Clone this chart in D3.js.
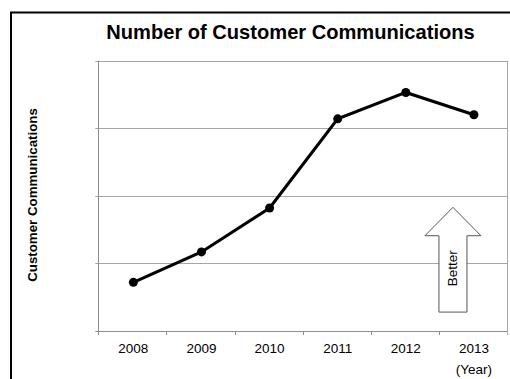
<!DOCTYPE html>
<html>
<head>
<meta charset="utf-8">
<script src="https://cdn.jsdelivr.net/npm/d3@7"></script>
<style>
  body { margin: 0; background: #fff; }
  text { font-family: "Liberation Sans", Arial, sans-serif; }
</style>
</head>
<body>
<div id="chart"></div>
<script>
const years = ["2008", "2009", "2010", "2011", "2012", "2013"]
const communications = [0.72, 1.17, 1.82, 3.14, 3.53, 3.2]
const gridValues = [0, 1, 2, 3, 4]

const width = 510
const height = 379
const plot = { left: 99.3, right: 508, top: 60.7, bottom: 331 }

const svg = d3.select("#chart")
    .append("svg")
    .attr("width", width)
    .attr("height", height)

// outer frame (runs off the right and bottom edges)
svg.append("rect")
    .attr("x", 11)
    .attr("y", 12.5)
    .attr("width", 520)
    .attr("height", 400)
    .style("fill", "none")
    .style("stroke", "#000")
    .style("stroke-width", 2)

const x = d3.scalePoint()
    .domain(years)
    .range([plot.left, plot.right])
    .padding(0.5)

const y = d3.scaleLinear()
    .domain([0, 4])
    .range([plot.bottom, plot.top])

const step = x.step()

// gridlines
svg.append("g")
    .selectAll("line")
    .data(gridValues)
    .enter()
    .append("line")
    .attr("x1", plot.left - 4)
    .attr("x2", plot.right)
    .attr("y1", d => Math.round(y(d)) + 0.5)
    .attr("y2", d => Math.round(y(d)) + 0.5)
    .style("stroke", d => d === 0 ? "#8c8c8c" : "#a6a6a6")
    .style("stroke-width", 1)

// left and right plot edges
svg.append("line")
    .attr("x1", Math.round(plot.left) - 0.5).attr("x2", Math.round(plot.left) - 0.5)
    .attr("y1", plot.top).attr("y2", plot.bottom + 4)
    .style("stroke", "#8c8c8c")
svg.append("line")
    .attr("x1", Math.round(plot.right) - 0.5).attr("x2", Math.round(plot.right) - 0.5)
    .attr("y1", plot.top).attr("y2", plot.bottom + 4)
    .style("stroke", "#a6a6a6")

// x ticks between categories
svg.append("g")
    .selectAll("line")
    .data(years.slice(1))
    .enter()
    .append("line")
    .attr("x1", d => Math.round(x(d) - step / 2) - 0.5)
    .attr("x2", d => Math.round(x(d) - step / 2) - 0.5)
    .attr("y1", plot.bottom)
    .attr("y2", plot.bottom + 4)
    .style("stroke", "#8c8c8c")

// x labels
svg.append("g")
    .selectAll("text")
    .data(years)
    .enter()
    .append("text")
    .attr("x", d => x(d))
    .attr("y", 353)
    .attr("text-anchor", "middle")
    .style("font-size", "13.5px")
    .text(d => d)

svg.append("text")
    .attr("x", x("2013"))
    .attr("y", 374)
    .attr("text-anchor", "middle")
    .style("font-size", "13.5px")
    .text("(Year)")

// title
svg.append("text")
    .attr("x", 290.5)
    .attr("y", 39)
    .attr("text-anchor", "middle")
    .style("font-size", "20.1px")
    .style("font-weight", "bold")
    .text("Number of Customer Communications")

// y axis title
svg.append("text")
    .attr("transform", "translate(37, 195) rotate(-90)")
    .attr("text-anchor", "middle")
    .style("font-size", "13.3px")
    .style("font-weight", "bold")
    .text("Customer Communications")

// "Better" arrow
const ax = x("2013") - 21
const shaft = 14
const head = 28
const tipV = 1.83, baseV = 1.41, bottomV = 0.28
const arrowPts = [
    [ax, y(tipV)],
    [ax + head, y(baseV)],
    [ax + shaft, y(baseV)],
    [ax + shaft, y(bottomV)],
    [ax - shaft, y(bottomV)],
    [ax - shaft, y(baseV)],
    [ax - head, y(baseV)]
]
svg.append("polygon")
    .attr("points", arrowPts.map(p => p.join(",")).join(" "))
    .style("fill", "#fff")
    .style("stroke", "#555")
    .style("stroke-width", 1)

svg.append("text")
    .attr("transform", `translate(${ax + 4}, ${y(0.93)}) rotate(-90)`)
    .attr("text-anchor", "middle")
    .style("font-size", "13.5px")
    .text("Better")

// data line
const line = d3.line()
    .x((d, i) => x(years[i]))
    .y(d => y(d))

svg.append("path")
    .datum(communications)
    .attr("d", line)
    .style("fill", "none")
    .style("stroke", "#000")
    .style("stroke-width", 3)

svg.append("g")
    .selectAll("circle")
    .data(communications)
    .enter()
    .append("circle")
    .attr("cx", (d, i) => x(years[i]))
    .attr("cy", d => y(d))
    .attr("r", 4.5)
    .style("fill", "#000")
</script>
</body>
</html>
